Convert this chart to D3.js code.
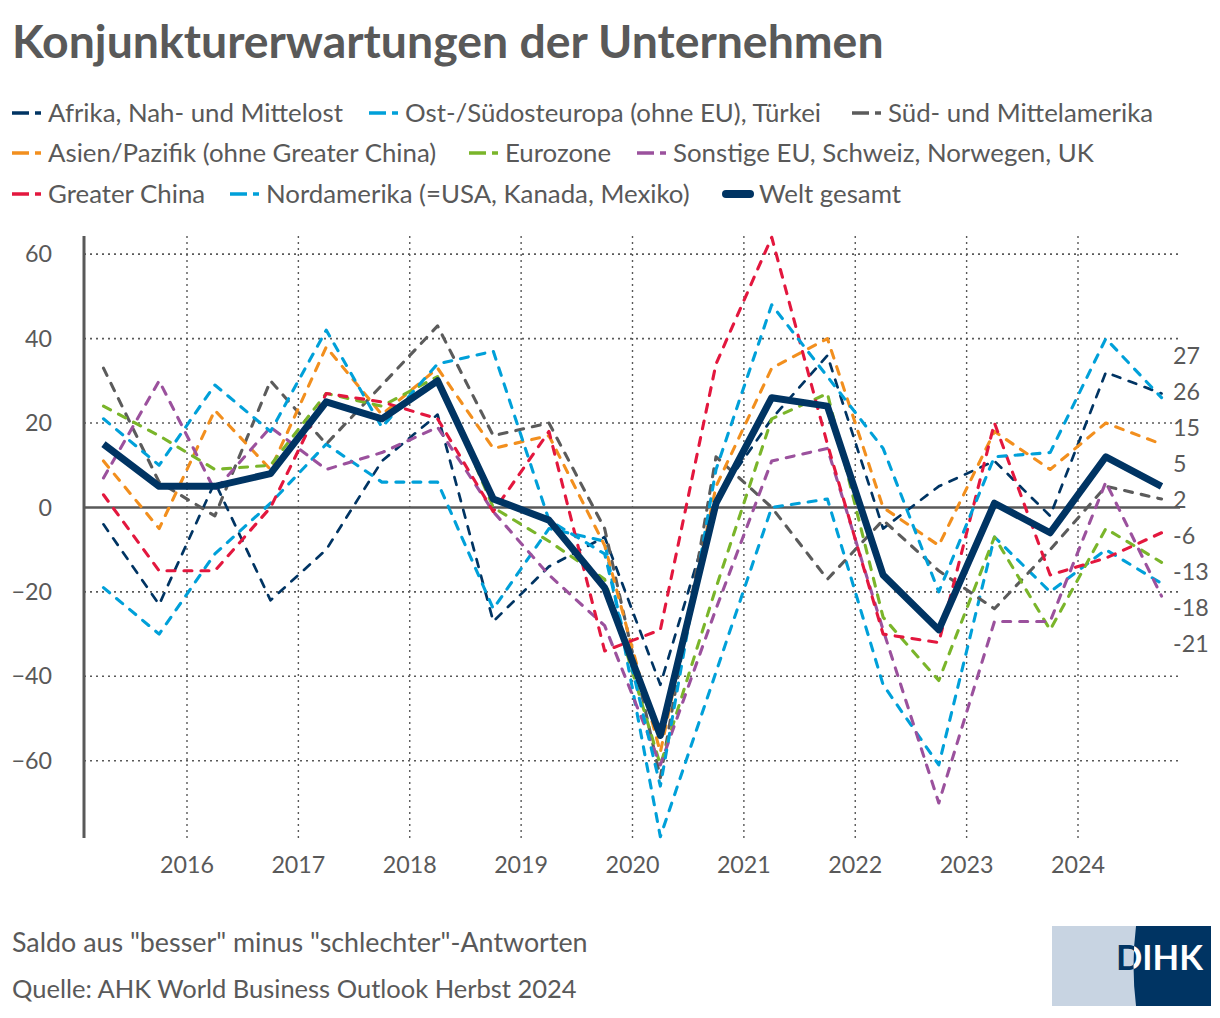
<!DOCTYPE html>
<html><head><meta charset="utf-8">
<script src="https://cdn.jsdelivr.net/npm/d3@7"></script>
<style>
html,body{margin:0;padding:0;background:#fff;}
svg{display:block;}
text{font-family:Lato,'Source Sans Pro',sans-serif;fill:#595959;}
</style></head><body>
<svg id="chart" width="1220" height="1018"></svg>
<script>
// ---------- DATA ----------
const periods = ["Frühjahr 2015","Herbst 2015","Frühjahr 2016","Herbst 2016","Frühjahr 2017","Herbst 2017",
  "Frühjahr 2018","Herbst 2018","Frühjahr 2019","Herbst 2019","Frühjahr 2020","Herbst 2020",
  "Frühjahr 2021","Herbst 2021","Frühjahr 2022","Herbst 2022","Frühjahr 2023","Herbst 2023",
  "Frühjahr 2024","Herbst 2024"];
const periodTimes = [2015.25,2015.75,2016.25,2016.75,2017.25,2017.75,2018.25,2018.75,2019.25,2019.75,
  2020.25,2020.75,2021.25,2021.75,2022.25,2022.75,2023.25,2023.75,2024.25,2024.75];
const yearTicks = [2016,2017,2018,2019,2020,2021,2022,2023,2024];
const yTicks = [-60,-40,-20,0,20,40,60];

const afrika      = [-4,-23,6,-22,-10,11,22,-27,-14,-7,-42,2,21,36,-5,5,11,-2,32,27];
const ostEuropa   = [-19,-30,-11,1,15,6,6,-24,-5,-8,-78,-39,0,2,-42,-61,-7,-20,-10,-18];
const suedAmerika = [33,6,-2,30,15,29,43,17,20,-5,-64,12,0,-17,-3,-15,-24,-10,5,2];
const asien       = [11,-5,23,9,38,22,33,14,17,-9,-58,5,33,40,0,-9,18,9,20,15];
const eurozone    = [24,17,9,10,27,24,31,0,-8,-17,-61,-19,21,27,-26,-41,-7,-29,-5,-13];
const sonstigeEU  = [7,30,4,19,9,13,19,-1,-16,-28,-61,-24,11,14,-29,-70,-27,-27,6,-21];
const china       = [3,-15,-15,0,27,25,21,-1,18,-34,-29,34,64,15,-30,-32,20,-16,-12,-6];
const nordamerika = [21,10,29,18,42,19,34,37,-3,-11,-66,9,48,31,14,-20,12,13,40,26];
const welt        = [15,5,5,8,25,21,30,2,-3,-19,-54,1,26,24,-16,-29,1,-6,12,5];

const seriesNames = ["Afrika, Nah- und Mittelost","Ost-/Südosteuropa (ohne EU), Türkei","Süd- und Mittelamerika",
  "Asien/Pazifik (ohne Greater China)","Eurozone","Sonstige EU, Schweiz, Norwegen, UK",
  "Greater China","Nordamerika (=USA, Kanada, Mexiko)","Welt gesamt"];
const seriesValues = [afrika,ostEuropa,suedAmerika,asien,eurozone,sonstigeEU,china,nordamerika,welt];
const seriesColors = ["#003463","#00a0d9","#5b5b5b","#f28f1e","#7ab52a","#9b519d","#e3173e","#00a0d9","#003463"];

const titleText = "Konjunkturerwartungen der Unternehmen";
const noteText = "Saldo aus \"besser\" minus \"schlechter\"-Antworten";
const sourceText = "Quelle: AHK World Business Outlook Herbst 2024";

// ---------- LAYOUT ----------
const svg = d3.select("#chart");
const GRAY = "#595959";
const plotLeft = 84, plotRight = 1180, plotTop = 236, plotBottom = 838;
const x = d3.scaleLinear().domain([2016, 2024]).range([187, 1078]);
const y = d3.scaleLinear().domain([-78.3, 64.3]).range([plotBottom, plotTop]);

function fitSize(sel, target) {
  const w = sel.node().getComputedTextLength();
  const fs = parseFloat(sel.attr("font-size"));
  return fs * target / w;
}

// Title
const title = svg.append("text").attr("x", 12).attr("y", 58).attr("font-size", 40)
  .attr("font-weight", 700).text(titleText);
title.attr("font-size", fitSize(title, 872));

// Legend
const legendPos = [[12,113],[369,113],[852,113],[12,153],[469,153],[637,153],[12,194],[230,194],[723,194]];
const probe = svg.append("text").attr("font-size", 24).text(seriesNames[0]);
const legendFs = fitSize(probe, 295);
probe.remove();
seriesNames.forEach((name, i) => {
  const [lx, ly] = legendPos[i];
  const g = svg.append("g");
  if (i === 8) {
    g.append("line").attr("x1", lx + 3).attr("x2", lx + 27).attr("y1", ly).attr("y2", ly)
      .attr("stroke", seriesColors[i]).attr("stroke-width", 8).attr("stroke-linecap", "round");
  } else {
    g.append("line").attr("x1", lx).attr("x2", lx + 29).attr("y1", ly).attr("y2", ly)
      .attr("stroke", seriesColors[i]).attr("stroke-width", 3.5).attr("stroke-dasharray", "17,6,6");
  }
  g.append("text").attr("x", lx + 36).attr("y", ly).attr("dy", "0.35em")
    .attr("font-size", legendFs).text(name);
});

// Grid
const grid = svg.append("g");
grid.selectAll("line.h").data(yTicks.filter(d => d !== 0)).join("line")
  .attr("x1", plotLeft).attr("x2", plotRight).attr("y1", d => y(d)).attr("y2", d => y(d))
  .attr("stroke", GRAY).attr("stroke-width", 1.6).attr("stroke-dasharray", "2,4");
grid.selectAll("line.v").data(yearTicks).join("line")
  .attr("x1", d => x(d)).attr("x2", d => x(d)).attr("y1", plotTop).attr("y2", plotBottom)
  .attr("stroke", GRAY).attr("stroke-width", 1.4).attr("stroke-dasharray", "2,4");

// Axes lines
svg.append("line").attr("x1", plotLeft).attr("x2", plotRight).attr("y1", y(0)).attr("y2", y(0))
  .attr("stroke", GRAY).attr("stroke-width", 2.5);
svg.append("line").attr("x1", plotLeft).attr("x2", plotLeft).attr("y1", plotTop).attr("y2", plotBottom)
  .attr("stroke", GRAY).attr("stroke-width", 3);

// Tick labels
const probe2 = svg.append("text").attr("font-size", 22).text("2016");
const tickFs = fitSize(probe2, 54);
probe2.remove();
const fmt = d3.format("d");
svg.append("g").selectAll("text").data(yTicks).join("text")
  .attr("x", 52).attr("y", d => y(d)).attr("dy", "0.35em").attr("text-anchor", "end")
  .attr("font-size", tickFs).text(d => fmt(d));
svg.append("g").selectAll("text").data(yearTicks).join("text")
  .attr("x", d => x(d)).attr("y", 865).attr("dy", "0.35em").attr("text-anchor", "middle")
  .attr("font-size", tickFs).text(d => d);

// Lines
const line = d3.line().x((d, i) => x(periodTimes[i])).y(d => y(d));
const lines = svg.append("g").attr("fill", "none");
seriesValues.forEach((vals, i) => {
  const p = lines.append("path").datum(vals).attr("d", line)
    .attr("stroke", seriesColors[i]).attr("stroke-linejoin", "round");
  if (i === 8) {
    p.attr("stroke-width", 7);
  } else {
    p.attr("stroke-width", i === 0 ? 2.7 : 3.1).attr("stroke-linecap", "round")
      .attr("stroke-dasharray", "8,9");
  }
});

// End labels with collision avoidance
const gap = 36;
let labs = seriesValues.map(v => ({v: v[v.length - 1], t: y(v[v.length - 1])})).sort((a, b) => a.t - b.t);
let clusters = labs.map(l => ({items: [l]}));
function place(c) {
  const m = d3.mean(c.items, d => d.t), n = c.items.length;
  c.items.forEach((d, k) => d.p = m + (k - (n - 1) / 2) * gap);
}
clusters.forEach(place);
let merged = true;
while (merged) {
  merged = false;
  for (let k = 0; k < clusters.length - 1; k++) {
    const a = clusters[k], b = clusters[k + 1];
    if (b.items[0].p - a.items[a.items.length - 1].p < gap) {
      const c = {items: a.items.concat(b.items)};
      place(c);
      clusters.splice(k, 2, c);
      merged = true;
      break;
    }
  }
}
svg.append("g").selectAll("text").data(labs).join("text")
  .attr("x", 1173).attr("y", d => d.p).attr("dy", "0.35em")
  .attr("font-size", tickFs).text(d => (d.v < 0 ? "-" : "") + Math.abs(d.v));

// Footer
const note = svg.append("text").attr("x", 12).attr("y", 943).attr("dy", "0.35em").attr("font-size", 22).text(noteText);
note.attr("font-size", fitSize(note, 576));
const src = svg.append("text").attr("x", 12).attr("y", 989).attr("dy", "0.35em").attr("font-size", 22).text(sourceText);
src.attr("font-size", fitSize(src, 565));

// Logo
const logo = svg.append("g");
logo.append("rect").attr("x", 1052).attr("y", 926).attr("width", 159).attr("height", 80).attr("fill", "#c8d4e2");
const navyPath = "M1136,926 L1211,926 L1211,1006 L1136,1006 Q1131,966 1136,926 Z";
logo.append("path").attr("d", navyPath).attr("fill", "#003463");
const defs = svg.append("defs");
defs.append("clipPath").attr("id", "navyClip").append("path").attr("d", navyPath);
const dt1 = logo.append("text").attr("x", 1116).attr("y", 970).attr("font-size", 38).attr("font-weight", 700)
  .style("fill", "#003463").text("DIHK");
const dfs = fitSize(dt1, 87);
dt1.attr("font-size", dfs);
logo.append("text").attr("x", 1116).attr("y", 970).attr("font-size", dfs).attr("font-weight", 700)
  .attr("clip-path", "url(#navyClip)").style("fill", "#fff").text("DIHK");
</script>
</body></html>
